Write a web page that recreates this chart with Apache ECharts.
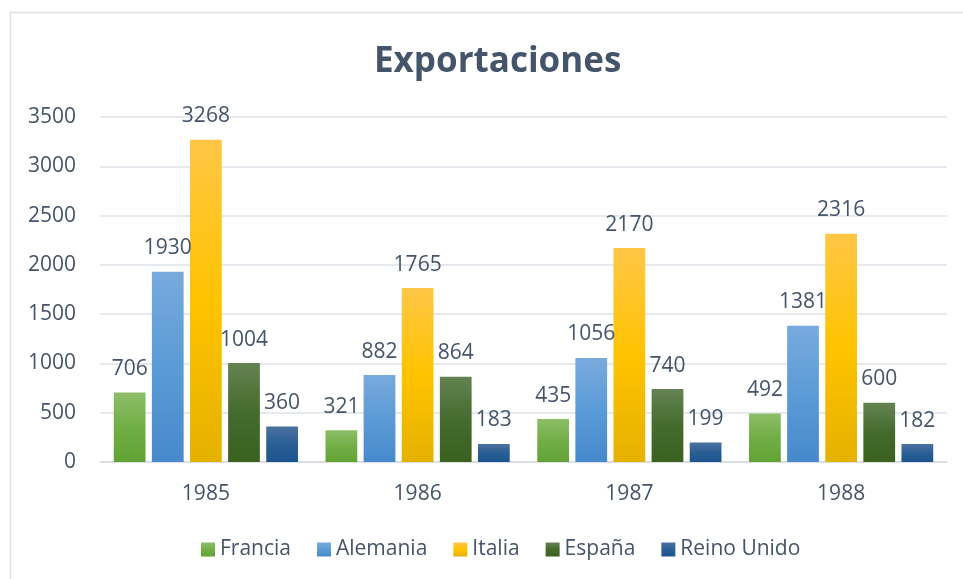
<!DOCTYPE html>
<html>
<head>
<meta charset="utf-8">
<script src="https://cdn.jsdelivr.net/npm/echarts@6/dist/echarts.min.js"></script>
<style>
    html, body { margin: 0; padding: 0; background: #fff; }
    #chart { width: 963px; height: 579px; }
</style>
</head>
<body>
<div id="chart"></div>
<script>
// datos
const years = ['1985', '1986', '1987', '1988'];
const francia = [706, 321, 435, 492];
const alemania = [1930, 882, 1056, 1381];
const italia = [3268, 1765, 2170, 2316];
const espana = [1004, 864, 740, 600];
const reinoUnido = [360, 183, 199, 182];
const yTicks = [0, 500, 1000, 1500, 2000, 2500, 3000, 3500];

const textColor = '#44546A';
const font = '"Open Sans", sans-serif';

function grad(top, mid, bottom) {
    return new echarts.graphic.LinearGradient(0, 0, 0, 1, [
        { offset: 0, color: top },
        { offset: 0.5, color: mid },
        { offset: 1, color: bottom }
    ]);
}

function makeSeries(name, data, top, mid, bottom) {
    return {
        name: name,
        type: 'bar',
        data: data,
        barGap: '20%',
        barCategoryGap: '13%',
        itemStyle: { color: grad(top, mid, bottom) },
        label: {
            show: true,
            position: 'top',
            distance: 13,
            color: textColor,
            fontSize: 21,
            fontFamily: font
        }
    };
}

const myEcharts = echarts.init(document.getElementById('chart'));
const option = {
    backgroundColor: '#fff',
    animation: false,
    graphic: [{
        type: 'rect',
        shape: { x: 10.5, y: 12.5, width: 1000, height: 700 },
        style: { fill: 'none', stroke: '#DCE1E8', lineWidth: 1.5 },
        silent: true
    }],
    title: {
        text: 'Exportaciones',
        left: 369,
        top: 40,
        textStyle: {
            color: textColor,
            fontSize: 35,
            fontWeight: 'bold',
            fontFamily: font
        }
    },
    legend: {
        left: 196,
        top: 534,
        itemWidth: 14,
        itemHeight: 14,
        itemGap: 26,
        icon: 'rect',
        textStyle: { color: textColor, fontSize: 21, fontFamily: font }
    },
    grid: { left: 100, right: 16, top: 117, bottom: 117 },
    xAxis: {
        type: 'category',
        data: years,
        axisLine: { lineStyle: { color: '#D9DDE3', width: 1.5 } },
        axisTick: { show: false },
        axisLabel: { color: textColor, fontSize: 21, fontFamily: font, margin: 22 }
    },
    yAxis: {
        type: 'value',
        min: yTicks[0],
        max: yTicks[yTicks.length - 1],
        interval: 500,
        axisLine: { show: false },
        axisTick: { show: false },
        axisLabel: {
            color: textColor,
            fontSize: 21,
            fontFamily: font,
            margin: 24,
            formatter: function (v) { return String(v); }
        },
        splitLine: { lineStyle: { color: '#DEE2E8', width: 1.5 } }
    },
    series: [
        makeSeries('Francia', francia, '#8DBE68', '#71AE45', '#62A335'),
        makeSeries('Alemania', alemania, '#78AADE', '#5B9BD6', '#4689CC'),
        makeSeries('Italia', italia, '#FFC646', '#FFC300', '#E5B100'),
        makeSeries('España', espana, '#648352', '#456B2D', '#3B6121'),
        makeSeries('Reino Unido', reinoUnido, '#4C71A2', '#2A5F94', '#1C548E')
    ]
};
myEcharts.setOption(option);
</script>
</body>
</html>
